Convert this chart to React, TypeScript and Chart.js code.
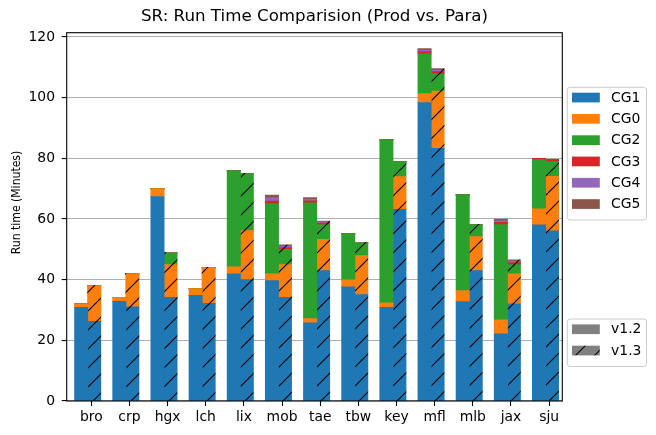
import React, { useEffect, useRef } from 'react';
import { Chart, registerables } from 'chart.js';

Chart.register(...registerables);

// ---------- data ----------
const categories = ['bro', 'crp', 'hgx', 'lch', 'lix', 'mob', 'tae', 'tbw', 'key', 'mfl', 'mlb', 'jax', 'sju'];
const seriesNames = ['CG1', 'CG0', 'CG2', 'CG3', 'CG4', 'CG5'];
const versionNames = ['v1.2', 'v1.3'];

// v1.2 (solid bars)
const v12CG1 = [30.8, 32.8, 67.3, 34.8, 41.9, 39.6, 25.7, 37.6, 30.8, 98.3, 32.7, 22.1, 58.0];
const v12CG0 = [1.2, 1.3, 2.7, 2.2, 2.3, 2.3, 1.4, 2.3, 1.5, 3.0, 3.6, 4.6, 5.3];
const v12CG2 = [0, 0, 0, 0, 31.7, 23.1, 38.2, 15.2, 53.8, 13.1, 31.7, 31.4, 16.2];
const v12CG3 = [0, 0, 0, 0, 0, 0.85, 0.6, 0, 0, 0.7, 0, 0.7, 0.4];
const v12CG4 = [0, 0, 0, 0, 0, 1.1, 0.5, 0, 0, 0.4, 0, 0.55, 0];
const v12CG5 = [0, 0, 0, 0, 0, 0.9, 0.6, 0, 0, 0.6, 0, 0.55, 0];

// v1.3 (hatched bars)
const v13CG1 = [26.2, 31.0, 34.1, 32.1, 40.0, 34.1, 42.9, 35.0, 63.1, 83.2, 42.9, 32.0, 56.0];
const v13CG0 = [11.8, 10.9, 10.8, 11.8, 16.1, 10.8, 10.3, 12.9, 10.8, 18.9, 11.2, 9.9, 18.0];
const v13CG2 = [0, 0, 3.9, 0, 18.8, 5.0, 4.9, 4.2, 5.0, 5.7, 4.0, 3.0, 4.9];
const v13CG3 = [0, 0, 0, 0, 0, 0.6, 0.45, 0, 0, 0.7, 0, 0.7, 0.7];
const v13CG4 = [0, 0, 0, 0, 0, 0.4, 0.45, 0, 0, 0.4, 0, 0.5, 0];
const v13CG5 = [0, 0, 0, 0, 0, 0.5, 0.25, 0, 0, 0.6, 0, 0.4, 0];

const yTicks = [0, 20, 40, 60, 80, 100, 120];
const titleText = 'SR: Run Time Comparision (Prod vs. Para)';
const yLabelText = 'Run time (Minutes)';

// ---------- style ----------
const seriesColors = ['#1f77b4', '#ff7f0e', '#2ca02c', '#d62728', '#9467bd', '#8c564b'];
const versionColor = '#808080';
const FONT = '"DejaVu Sans", "Liberation Sans", sans-serif';
const TICK_SHIFT = 0.094;
const HATCH = 19;

export default function App() {
  const ref = useRef<HTMLCanvasElement>(null);

  useEffect(() => {
    const canvas = ref.current!;
    const ctx = canvas.getContext('2d')!;

    const hatch = (color: string) => {
      const c = document.createElement('canvas');
      c.width = HATCH;
      c.height = HATCH;
      const g = c.getContext('2d')!;
      g.fillStyle = color;
      g.fillRect(0, 0, HATCH, HATCH);
      g.strokeStyle = '#000';
      g.lineWidth = 1.1;
      g.beginPath();
      g.moveTo(-2, HATCH + 2);
      g.lineTo(HATCH + 2, -2);
      g.moveTo(-2, 2);
      g.lineTo(2, -2);
      g.moveTo(HATCH - 2, HATCH + 2);
      g.lineTo(HATCH + 2, HATCH - 2);
      g.stroke();
      return ctx.createPattern(c, 'repeat')!;
    };

    const v12 = [v12CG1, v12CG0, v12CG2, v12CG3, v12CG4, v12CG5];
    const v13 = [v13CG1, v13CG0, v13CG2, v13CG3, v13CG4, v13CG5];
    const hatches = seriesColors.map(hatch);
    const versionHatch = hatch(versionColor);

    const datasets: any[] = [];
    seriesNames.forEach((name, s) => {
      datasets.push({
        label: name + ' ' + versionNames[0],
        data: categories.map((_, i) => ({ x: i, y: v12[s][i] })),
        backgroundColor: seriesColors[s],
        borderWidth: 0,
        inflateAmount: 0.5,
        stack: 'v12',
        categoryPercentage: 0.681,
        barPercentage: 1,
      });
    });
    seriesNames.forEach((name, s) => {
      datasets.push({
        label: name + ' ' + versionNames[1],
        data: categories.map((_, i) => ({ x: i, y: v13[s][i] })),
        backgroundColor: hatches[s],
        borderWidth: 0,
        inflateAmount: 0.5,
        stack: 'v13',
        categoryPercentage: 0.681,
        barPercentage: 1,
      });
    });

    const decor = {
      id: 'decor',
      afterDatasetsDraw(chart: any) {
        const { ctx: c, chartArea: a } = chart;
        c.save();
        c.strokeStyle = '#000';
        c.lineWidth = 1.1;
        c.strokeRect(a.left, a.top, a.right - a.left, a.bottom - a.top);
        c.restore();
      },
      afterDraw(chart: any) {
        const { ctx: c, chartArea: a } = chart;
        c.save();
        c.fillStyle = '#000';
        // title
        c.font = `16.7px ${FONT}`;
        c.textAlign = 'center';
        c.textBaseline = 'alphabetic';
        c.fillText(titleText, (a.left + a.right) / 2, 20.5);
        // y label
        c.save();
        c.translate(17.2, 202.5);
        c.rotate(-Math.PI / 2);
        c.scale(0.883, 1);
        c.font = `12.3px ${FONT}`;
        c.textAlign = 'center';
        c.textBaseline = 'middle';
        c.fillText(yLabelText, 0, 0);
        c.restore();

        const box = (x: number, y: number, w: number, h: number) => {
          const r = 2.8;
          c.beginPath();
          c.moveTo(x + r, y);
          c.lineTo(x + w - r, y);
          c.quadraticCurveTo(x + w, y, x + w, y + r);
          c.lineTo(x + w, y + h - r);
          c.quadraticCurveTo(x + w, y + h, x + w - r, y + h);
          c.lineTo(x + r, y + h);
          c.quadraticCurveTo(x, y + h, x, y + h - r);
          c.lineTo(x, y + r);
          c.quadraticCurveTo(x, y, x + r, y);
          c.closePath();
          c.fillStyle = 'rgba(255,255,255,0.8)';
          c.fill();
          c.strokeStyle = '#cccccc';
          c.lineWidth = 1;
          c.stroke();
        };
        const entries = (items: { label: string; fill: any }[], top: number, bottom: number) => {
          box(567.3, top, 79.2, bottom - top);
          c.font = `13.9px ${FONT}`;
          c.textAlign = 'left';
          c.textBaseline = 'middle';
          items.forEach((it, k) => {
            const py = top + 5.4 + 21.3 * k;
            c.fillStyle = it.fill;
            c.fillRect(572, py, 27.8, 9.7);
            c.fillStyle = '#000';
            c.fillText(it.label, 611.1, py + 4.85 + 0.6);
          });
        };
        entries(seriesNames.map((n, s) => ({ label: n, fill: seriesColors[s] })), 87.3, 220);
        entries(
          [
            { label: versionNames[0], fill: versionColor },
            { label: versionNames[1], fill: versionHatch },
          ],
          319,
          366.5
        );
        c.restore();
      },
    };

    Chart.defaults.font.family = FONT;
    Chart.defaults.color = '#000';

    const chart = new Chart(ctx, {
      type: 'bar',
      data: { datasets },
      plugins: [decor],
      options: {
        animation: false,
        responsive: false,
        maintainAspectRatio: false,
        layout: { padding: { left: 0, top: 32.7, right: 93.7, bottom: 0 } },
        plugins: {
          legend: { display: false },
          title: { display: false },
          tooltip: { enabled: false },
        },
        scales: {
          x: {
            type: 'linear',
            min: -0.55,
            max: 12.44,
            offset: false,
            afterBuildTicks: (axis: any) => {
              axis.ticks = categories.map((_, i) => ({ value: i + TICK_SHIFT }));
            },
            afterFit: (s: any) => {
              s.height = 34;
            },
            border: { display: false },
            grid: {
              drawOnChartArea: false,
              drawTicks: true,
              tickLength: 5,
              tickColor: '#000',
              tickWidth: 1.1,
              offset: false,
            },
            ticks: {
              autoSkip: false,
              maxRotation: 0,
              minRotation: 0,
              padding: 3,
              color: '#000',
              font: { size: 13.9, family: FONT },
              callback: (_v: any, i: number) => categories[i],
            },
          },
          y: {
            type: 'linear',
            stacked: true,
            min: 0,
            max: 121.4,
            afterBuildTicks: (axis: any) => {
              axis.ticks = yTicks.map((v) => ({ value: v }));
            },
            afterFit: (s: any) => {
              s.width = 66.7;
            },
            border: { display: false },
            grid: {
              color: '#b0b0b0',
              lineWidth: 1.1,
              tickLength: 5,
              tickColor: '#000',
              tickWidth: 1.1,
            },
            ticks: {
              padding: 6.7,
              color: '#000',
              font: { size: 13.9, family: FONT },
              callback: (v: any) => String(v),
            },
          },
        },
      } as any,
    });

    return () => chart.destroy();
  }, []);

  return (
    <div style={{ position: 'absolute', left: 0, top: 0, width: 656, height: 435, background: '#fff' }}>
      <canvas ref={ref} width={656} height={435} style={{ display: 'block' }} />
    </div>
  );
}
